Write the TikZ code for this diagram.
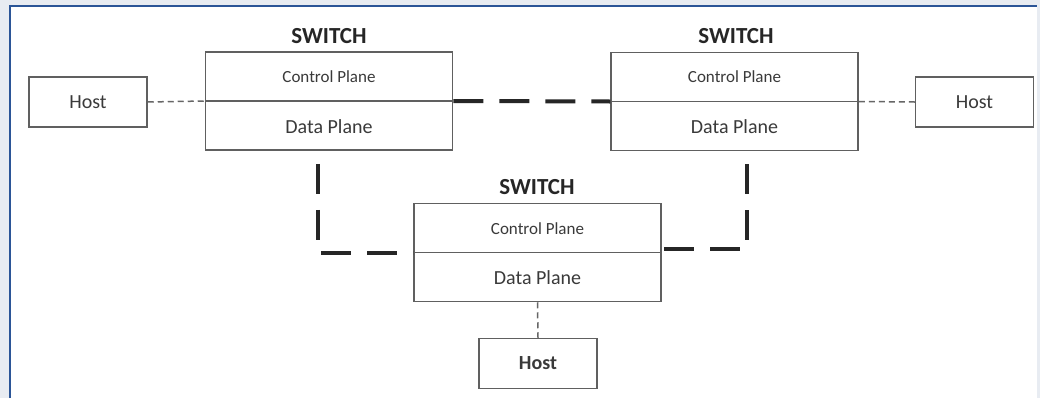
\documentclass[tikz,border=0pt]{standalone}
\usepackage{fontspec}
\setmainfont{Carlito}
\definecolor{boxgray}{HTML}{606060}
\definecolor{txtgray}{HTML}{3A3A3A}
\definecolor{linegray}{HTML}{666666}
\definecolor{frameblue}{HTML}{2B5597}
\definecolor{outerbg}{HTML}{E8ECF2}
\begin{document}
\begin{tikzpicture}[x=1pt,y=-1pt,
  sw/.style={draw=boxgray,line width=1.5pt,minimum width=247pt,minimum height=98pt,inner sep=0pt},
  hostbox/.style={draw=boxgray,line width=1.5pt,minimum width=118pt,minimum height=50pt,inner sep=0pt,font=\fontsize{20}{24}\selectfont,text=txtgray},
  divline/.style={draw=boxgray,line width=1.5pt},
  swtitle/.style={font=\bfseries\fontsize{23}{28}\selectfont,text=black!85},
  cptext/.style={font=\fontsize{17}{20}\selectfont,text=txtgray},
  dptext/.style={font=\fontsize{20}{24}\selectfont,text=txtgray},
  linkthin/.style={draw=linegray,line width=1.5pt,dash pattern=on 6pt off 4pt},
  linkthick/.style={draw=black!85,line width=4pt,dash pattern=on 30pt off 16pt,dash phase=#1},
  linkthick/.default=0pt]
% background and frame
\fill[outerbg] (0,0) rectangle (1040,398);
\fill[white] (10,6) rectangle (1037,398);
\draw[frameblue,line width=2pt] (10,398) -- (10,6) -- (1037,6);
\useasboundingbox (0,0) rectangle (1040,398);

% switches
\node[sw] (s1) at (329,101) {};
\draw[divline] (s1.west) -- (s1.east);
\node[swtitle] (s1t) at (329,36) {SWITCH};
\node[cptext] (s1c) at (329,77) {Control Plane};
\node[dptext] (s1d) at (329,127) {Data Plane};

\node[sw] (s2) at (734.5,101.5) {};
\draw[divline] (s2.west) -- (s2.east);
\node[swtitle] (s2t) at (736,36) {SWITCH};
\node[cptext] (s2c) at (734.5,77) {Control Plane};
\node[dptext] (s2d) at (734.5,127) {Data Plane};

\node[sw] (s3) at (537.5,252.5) {};
\draw[divline] (s3.west) -- (s3.east);
\node[swtitle] (s3t) at (537,187) {SWITCH};
\node[cptext] (s3c) at (537.5,229) {Control Plane};
\node[dptext] (s3d) at (537.5,278) {Data Plane};

% hosts
\node[hostbox] (h1) at (88,102) {Host};
\node[hostbox] (h2) at (974.5,102) {Host};
\node[hostbox,font=\bfseries\fontsize{20}{24}\selectfont] (h3) at (538,363.5) {Host};

% connectors
\draw[linkthin] (h1.east) -- (s1.west);
\draw[linkthin] (s2.east) -- (h2.west);
\draw[linkthin] (s3.south) -- (h3.north);
\draw[linkthick] (s1.east) -- (s2.west);
\coordinate (c1) at (318,252.5);
\coordinate (c2) at (747,249);
\draw[linkthick=33pt] (s1.south -| c1) -- (c1) -- (s3.west);
\draw[linkthick=33pt] (s2.south -| c2) -- (c2) -- (c2 -| s3.east);
\end{tikzpicture}
\end{document}
